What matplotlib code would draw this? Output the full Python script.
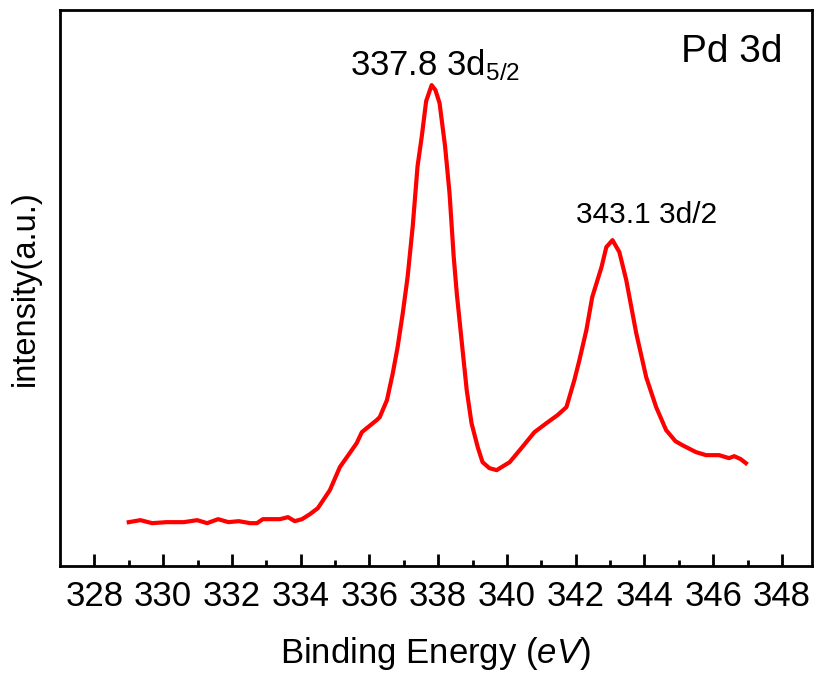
import numpy as np
import matplotlib
matplotlib.use('Agg')
import matplotlib.pyplot as plt

plt.rcParams['font.family'] = 'Liberation Sans'
plt.rcParams['mathtext.fontset'] = 'custom'
plt.rcParams['mathtext.rm'] = 'Liberation Sans'
plt.rcParams['mathtext.it'] = 'Liberation Sans:italic'

# Pd 3d XPS spectrum (intensity in a.u.)
energy = [329.0, 329.34, 329.68, 330.1, 330.6, 330.99, 331.28, 331.6, 331.9, 332.2,
          332.53, 332.73, 332.9, 333.4, 333.63, 333.83, 334.04, 334.27, 334.5,
          334.85, 335.14, 335.63, 335.78, 336.21, 336.3, 336.51, 336.68, 336.82,
          336.97, 337.11, 337.26, 337.4, 337.52, 337.65, 337.81, 337.92, 338.04,
          338.2, 338.33, 338.45, 338.54, 338.68, 338.83, 338.97, 339.15, 339.29,
          339.49, 339.7, 340.08, 340.42, 340.8, 341.15, 341.47, 341.73, 341.96,
          342.1, 342.31, 342.48, 342.75, 342.89, 343.07, 343.27, 343.47, 343.76,
          344.05, 344.34, 344.63, 344.9, 345.1, 345.5, 345.79, 346.17, 346.46,
          346.61, 346.8, 346.95]
intensity = [44, 46, 43, 44, 44, 46, 43, 47, 44, 45,
             43, 43, 47, 47, 49, 45, 47, 52, 58,
             76, 99, 123, 134, 146, 149, 166, 193, 219,
             253, 289, 340, 400, 429, 465, 481, 476, 463,
             420, 373, 310, 273, 226, 176, 143, 119, 104,
             98, 96, 104, 118, 134, 143, 151, 159, 186,
             205, 236, 269, 299, 319, 326, 314, 286, 233,
             189, 159, 136, 125, 121, 114, 111, 111, 108,
             110, 107, 103]

xticks = np.arange(328, 349, 2)

fig = plt.figure(figsize=(8.16, 6.74), dpi=100)
ax = fig.add_axes([0.0735, 0.160, 0.9215, 0.825])

ax.plot(energy, intensity, color='red', lw=3)

ax.set_xlim(327.0, 348.87)
ax.set_ylim(0, 556)
ax.set_xticks(xticks)
ax.set_xticks(np.arange(329, 349, 2), minor=True)
ax.set_yticks([])
ax.tick_params(axis='x', which='major', direction='in', length=9, width=2,
               labelsize=25, pad=10)
ax.tick_params(axis='x', which='minor', direction='in', length=4, width=2)
for s in ax.spines.values():
    s.set_linewidth(2)

ax.set_xlabel(r'Binding Energy ($\mathit{eV}$)', fontsize=25, labelpad=16)
ax.set_ylabel('intensity(a.u.)', fontsize=23.5, labelpad=14)

ax.text(335.43, 491, r'337.8 3d$_{5/2}$', fontsize=25, va='baseline')
ax.text(342.02, 343, '343.1 3d/2', fontsize=21.5, va='baseline')
ax.text(345.07, 504, 'Pd 3d', fontsize=28, va='baseline')

fig.savefig('out.png', dpi=100)
